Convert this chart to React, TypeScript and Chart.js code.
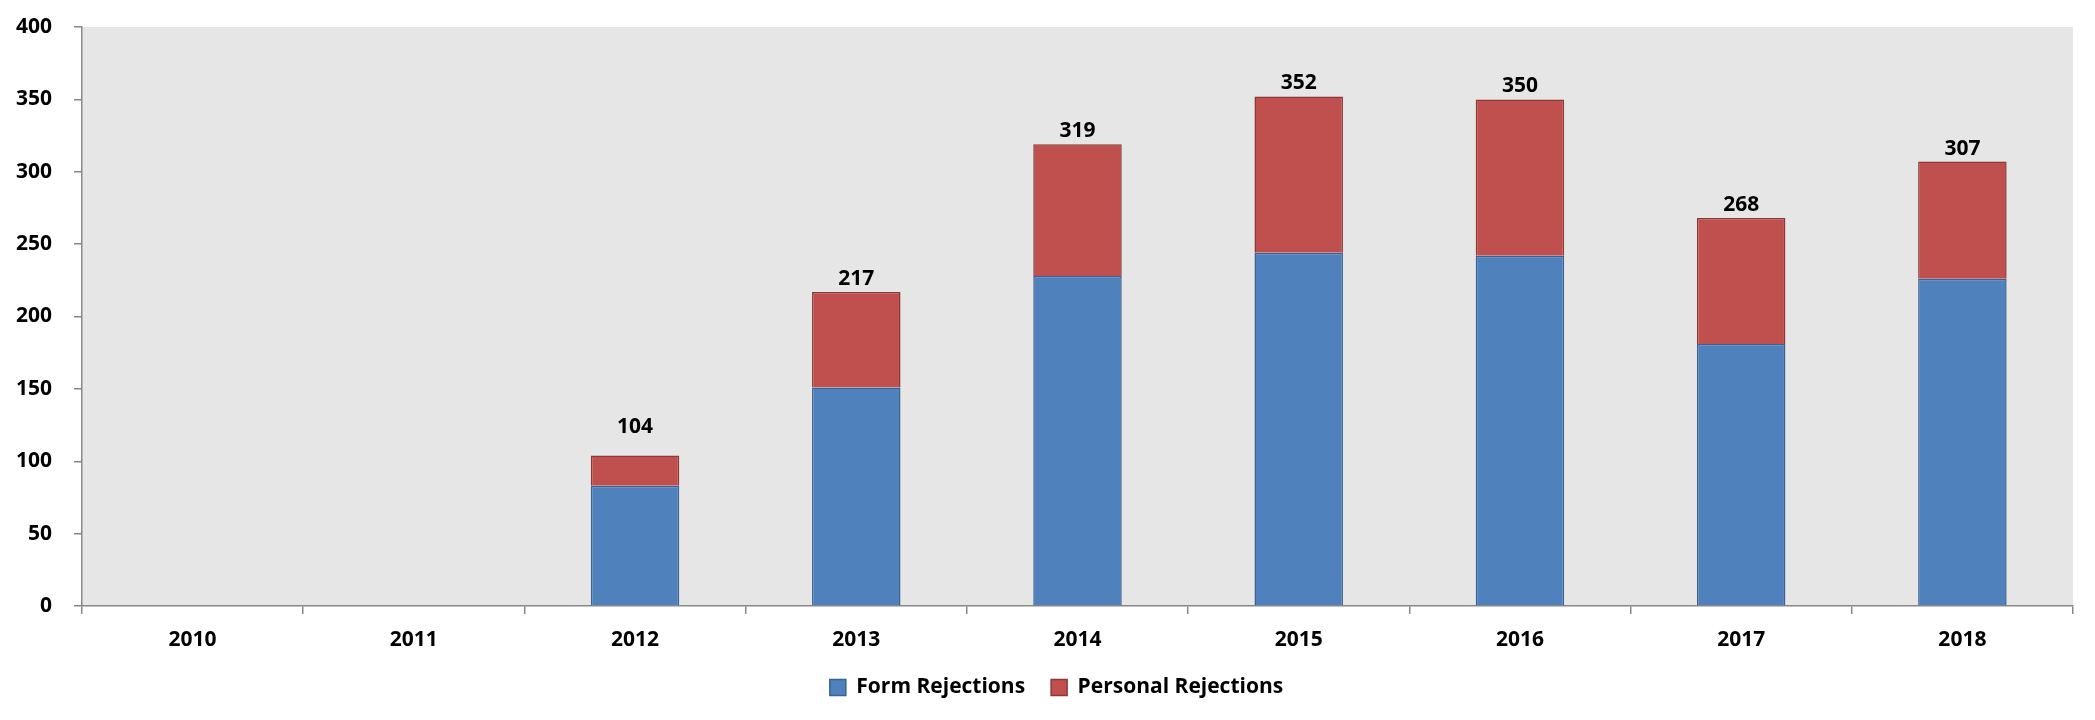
import React, { useEffect, useRef } from "react";
import { Chart, registerables } from "chart.js";

Chart.register(...registerables);

const years = ["2010", "2011", "2012", "2013", "2014", "2015", "2016", "2017", "2018"];
const formRejections = [0, 0, 83, 151, 228, 244, 242, 181, 226];
const personalRejections = [0, 0, 21, 66, 91, 108, 108, 87, 81];
const yTicks = [0, 50, 100, 150, 200, 250, 300, 350, 400];

const FONT = "'Open Sans', 'Noto Sans', sans-serif";
const FSIZE = 21;
const AXIS_GRAY = "#878787";

const plotBackground = {
  id: "plotBackground",
  beforeDraw(chart: any) {
    const { ctx, chartArea } = chart;
    ctx.save();
    ctx.fillStyle = "#E6E6E6";
    ctx.fillRect(chartArea.left, chartArea.top, chartArea.right - chartArea.left, chartArea.bottom - chartArea.top);
    ctx.restore();
  },
};

// centre the legend on the whole canvas rather than on the padded box
const legendCentre = {
  id: "legendCentre",
  afterLayout(chart: any) {
    const lg = chart.legend;
    if (!lg) return;
    const shift = (chart.width - (lg.left + lg.right)) / 2 + 9;
    lg.left += shift;
    lg.right += shift;
  },
};

const totalsLabels = {
  id: "totalsLabels",
  afterDatasetsDraw(chart: any, _args: any, opts: any) {
    const { ctx } = chart;
    const yScale = chart.scales.y;
    const meta = chart.getDatasetMeta(chart.data.datasets.length - 1);
    const extra = (opts && opts.extraLift) || {};
    ctx.save();
    ctx.font = `bold ${FSIZE}px ${FONT}`;
    ctx.fillStyle = "#000";
    ctx.textAlign = "center";
    ctx.textBaseline = "alphabetic";
    years.forEach((_, i) => {
      const total = formRejections[i] + personalRejections[i];
      if (!total) return;
      const x = meta.data[i].x;
      const y = yScale.getPixelForValue(total);
      ctx.fillText(String(total), x, y - 7 - (extra[i] || 0));
    });
    ctx.restore();
  },
};

export default function App() {
  const ref = useRef<HTMLCanvasElement>(null);
  useEffect(() => {
    if (!ref.current) return;
    const chart = new Chart(ref.current, {
      type: "bar",
      data: {
        labels: years,
        datasets: [
          {
            label: "Form Rejections",
            data: formRejections,
            backgroundColor: "#4F81BD",
            borderColor: "#3A6292",
            borderWidth: 1.5,
            barPercentage: 0.4,
            categoryPercentage: 1,
          },
          {
            label: "Personal Rejections",
            data: personalRejections,
            backgroundColor: "#C0504D",
            borderColor: "#8C3835",
            borderWidth: 1.5,
            barPercentage: 0.4,
            categoryPercentage: 1,
          },
        ],
      },
      options: {
        animation: false,
        responsive: false,
        maintainAspectRatio: false,
        layout: { padding: { top: 27, right: 22, bottom: 12, left: 0 } },
        plugins: {
          tooltip: { enabled: false },
          totalsLabels: { extraLift: { 2: 15 } },
          legend: {
            position: "bottom",
            labels: {
              boxWidth: 16,
              boxHeight: 16,
              padding: 26,
              color: "#000",
              font: { family: FONT, size: FSIZE, weight: "bold" },
            },
          },
        },
        scales: {
          x: {
            stacked: true,
            offset: true,
            afterFit(scale: any) {
              scale.height = 45;
            },
            grid: {
              offset: true,
              drawOnChartArea: false,
              drawTicks: true,
              tickLength: 8,
              color: AXIS_GRAY,
              lineWidth: 1.5,
            },
            border: { color: AXIS_GRAY, width: 1.5 },
            ticks: {
              color: "#000",
              padding: 13,
              font: { family: FONT, size: FSIZE, weight: "bold" },
            },
          },
          y: {
            stacked: true,
            min: 0,
            max: 400,
            afterBuildTicks(scale: any) {
              scale.ticks = yTicks.map((v) => ({ value: v }));
            },
            afterFit(scale: any) {
              scale.width = 82;
              scale.paddingTop = 0;
              scale.paddingBottom = 0;
            },
            grid: {
              drawOnChartArea: false,
              drawTicks: true,
              tickLength: 8,
              color: AXIS_GRAY,
              lineWidth: 1.5,
            },
            border: { color: AXIS_GRAY, width: 1.5 },
            ticks: {
              color: "#000",
              padding: 22,
              font: { family: FONT, size: FSIZE, weight: "bold" },
            },
          },
        },
      },
      plugins: [plotBackground, legendCentre, totalsLabels],
    });
    return () => chart.destroy();
  }, []);
  return (
    <div style={{ position: "fixed", left: 0, top: 0, width: 2095, height: 720, background: "#fff" }}>
      <canvas ref={ref} width={2095} height={720} style={{ width: 2095, height: 720 }} />
    </div>
  );
}
